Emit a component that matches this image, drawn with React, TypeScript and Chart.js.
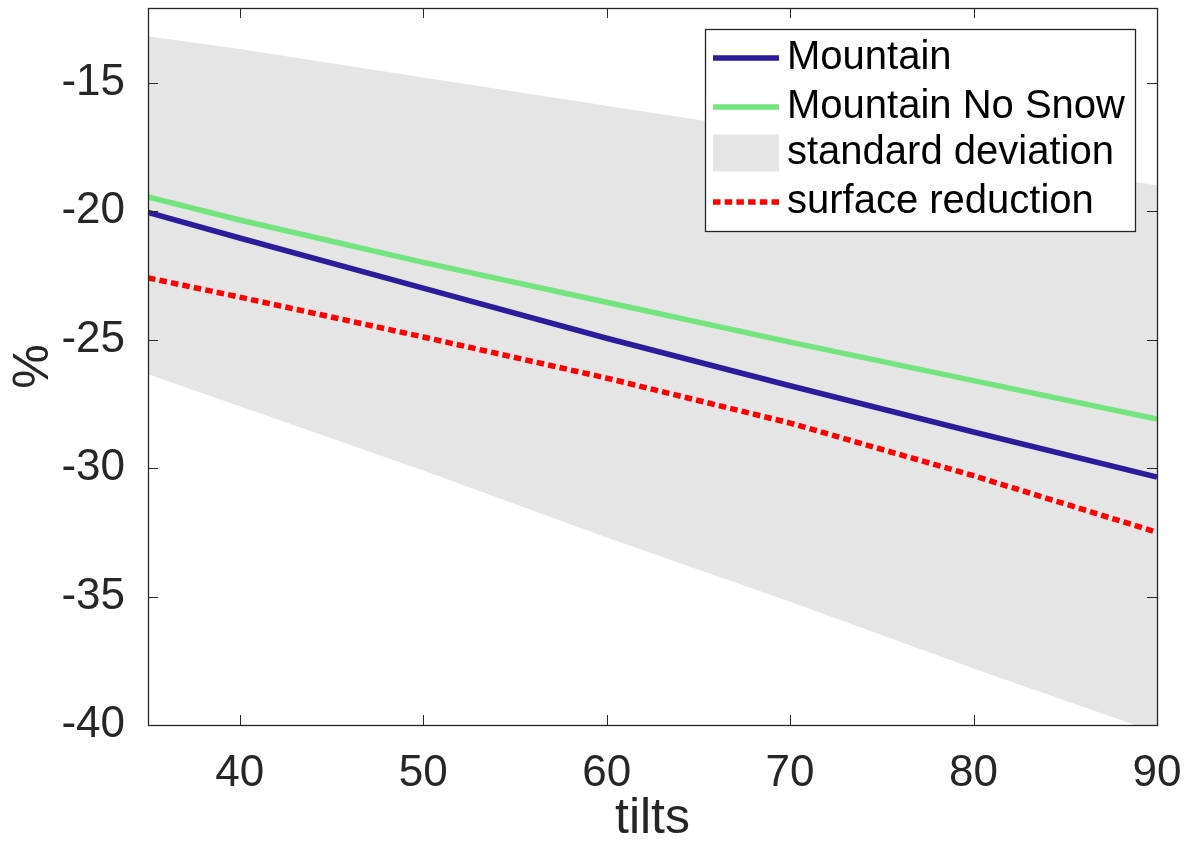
import React, { useEffect, useRef } from "react";
import { Chart, registerables } from "chart.js";

Chart.register(...registerables);

// ---- data ----
const tilts = [35, 40, 50, 60, 70, 80, 90];
const mountain = [-20.05, -21.05, -23.0, -24.95, -26.8, -28.6, -30.35];
const mountainNoSnow = [-19.45, -20.35, -22.0, -23.55, -25.1, -26.6, -28.1];
const surfaceReduction = [-22.6, -23.35, -24.9, -26.5, -28.25, -30.3, -32.5];
const stdUpper = [-13.2, -13.7, -14.8, -15.9, -17.0, -18.0, -19.0];
const stdLower = [-26.35, -27.6, -30.1, -32.7, -35.2, -37.8, -40.3];

const xTicks = [40, 50, 60, 70, 80, 90];
const yTicks = [-40, -35, -30, -25, -20, -15];
const xLabel = "tilts";
const yLabel = "%";
const legendLabels = ["Mountain", "Mountain No Snow", "standard deviation", "surface reduction"];

const FONT = "'Liberation Sans', Arial, Helvetica, sans-serif";
const BLUE = "#2b1c9b";
const GREEN = "#74e47f";
const RED = "#ff0000";
const BAND = "#e5e5e5";
const AXIS = "#262626";
const LW = 5.5;

const pts = (ys: number[]) => tilts.map((t, i) => ({ x: t, y: ys[i] }));

const boxAndTicks = {
  id: "boxAndTicks",
  afterDatasetsDraw(chart: any) {
    const { ctx, chartArea, scales } = chart;
    const { left, right, top, bottom } = chartArea;
    const tl = 10;
    ctx.save();
    ctx.strokeStyle = AXIS;
    ctx.lineWidth = 1;
    ctx.beginPath();
    for (const v of xTicks) {
      const px = Math.round(scales.x.getPixelForValue(v)) + 0.5;
      ctx.moveTo(px, bottom);
      ctx.lineTo(px, bottom - tl);
      ctx.moveTo(px, top);
      ctx.lineTo(px, top + tl);
    }
    for (const v of yTicks) {
      const py = Math.round(scales.y.getPixelForValue(v)) + 0.5;
      ctx.moveTo(left, py);
      ctx.lineTo(left + tl, py);
      ctx.moveTo(right, py);
      ctx.lineTo(right - tl, py);
    }
    ctx.stroke();
    ctx.lineWidth = 1.3;
    ctx.strokeRect(Math.round(left) + 0.5, Math.round(top) + 0.5, Math.round(right - left), Math.round(bottom - top));
    ctx.restore();
  },
};

const legendPlugin = {
  id: "customLegend",
  afterDraw(chart: any) {
    const { ctx, chartArea } = chart;
    const w = 430;
    const h = 202;
    const bx = chartArea.right - 22 - w;
    const by = chartArea.top + 21;
    ctx.save();
    ctx.fillStyle = "#ffffff";
    ctx.fillRect(bx, by, w, h);
    ctx.strokeStyle = AXIS;
    ctx.lineWidth = 1.3;
    ctx.strokeRect(bx + 0.5, by + 0.5, w, h);
    const rows = [29, 78, 124, 173];
    const sx0 = bx + 8;
    const sx1 = bx + 74;
    ctx.lineCap = "butt";
    ctx.lineWidth = LW;
    ctx.strokeStyle = BLUE;
    ctx.beginPath();
    ctx.moveTo(sx0, by + rows[0]);
    ctx.lineTo(sx1, by + rows[0]);
    ctx.stroke();
    ctx.strokeStyle = GREEN;
    ctx.beginPath();
    ctx.moveTo(sx0, by + rows[1]);
    ctx.lineTo(sx1, by + rows[1]);
    ctx.stroke();
    ctx.fillStyle = BAND;
    ctx.fillRect(sx0, by + rows[2] - 18.5, sx1 - sx0, 37);
    ctx.strokeStyle = RED;
    ctx.setLineDash([7.5, 4.2]);
    ctx.beginPath();
    ctx.moveTo(sx0, by + rows[3]);
    ctx.lineTo(sx1, by + rows[3]);
    ctx.stroke();
    ctx.setLineDash([]);
    ctx.fillStyle = "#000000";
    ctx.font = `40px ${FONT}`;
    ctx.textBaseline = "middle";
    ctx.textAlign = "left";
    legendLabels.forEach((l, i) => ctx.fillText(l, bx + 82, by + rows[i]));
    ctx.restore();
  },
};

export default function App() {
  const ref = useRef<HTMLCanvasElement | null>(null);
  useEffect(() => {
    if (!ref.current) return;
    const chart = new Chart(ref.current, {
      type: "line",
      data: {
        datasets: [
          {
            label: legendLabels[0],
            data: pts(mountain),
            borderColor: BLUE,
            borderWidth: LW,
            pointRadius: 0,
            fill: false,
            tension: 0,
            order: 2,
          },
          {
            label: legendLabels[1],
            data: pts(mountainNoSnow),
            borderColor: GREEN,
            borderWidth: LW,
            pointRadius: 0,
            fill: false,
            tension: 0,
            order: 3,
          },
          {
            label: legendLabels[3],
            data: pts(surfaceReduction),
            borderColor: RED,
            borderWidth: LW,
            borderDash: [7.5, 4.2],
            borderCapStyle: "butt",
            pointRadius: 0,
            fill: false,
            tension: 0,
            order: 1,
          },
          {
            label: legendLabels[2],
            data: pts(stdUpper),
            borderWidth: 0,
            borderColor: "rgba(0,0,0,0)",
            backgroundColor: BAND,
            pointRadius: 0,
            fill: "+1",
            tension: 0,
            order: 10,
          },
          {
            label: "std lower",
            data: pts(stdLower),
            borderWidth: 0,
            borderColor: "rgba(0,0,0,0)",
            pointRadius: 0,
            fill: false,
            tension: 0,
            order: 11,
          },
        ],
      },
      options: {
        responsive: false,
        animation: false,
        events: [],
        layout: { padding: { top: 8, right: 27, left: 0, bottom: 0 } },
        plugins: { legend: { display: false }, tooltip: { enabled: false } },
        scales: {
          x: {
            type: "linear",
            min: 35,
            max: 90,
            afterBuildTicks: (s: any) => {
              s.ticks = xTicks.map((v) => ({ value: v }));
            },
            afterFit: (s: any) => {
              s.height = 116;
              s.paddingLeft = 0;
              s.paddingRight = 0;
            },
            grid: { display: false },
            border: { display: false },
            ticks: { padding: 14, color: AXIS, font: { family: FONT, size: 44 } },
            title: {
              display: true,
              text: xLabel,
              color: AXIS,
              font: { family: FONT, size: 50, lineHeight: 0.8 },
              padding: { top: 0, bottom: 1.6 },
            },
          },
          y: {
            type: "linear",
            min: -40,
            max: -12.1,
            afterBuildTicks: (s: any) => {
              s.ticks = yTicks.map((v) => ({ value: v }));
            },
            afterFit: (s: any) => {
              s.width = 148;
              s.paddingTop = 0;
              s.paddingBottom = 0;
            },
            grid: { display: false },
            border: { display: false },
            ticks: { padding: 15, color: AXIS, font: { family: FONT, size: 44 } },
            title: {
              display: true,
              text: yLabel,
              color: AXIS,
              font: { family: FONT, size: 50, lineHeight: 0.8 },
              padding: { top: 14.7, bottom: 0 },
            },
          },
        },
      },
      plugins: [boxAndTicks, legendPlugin],
    } as any);
    return () => chart.destroy();
  }, []);
  return (
    <div style={{ position: "fixed", left: 0, top: 0, width: 1184, height: 841, background: "#fff" }}>
      <canvas ref={ref} width={1184} height={841} style={{ display: "block" }} />
    </div>
  );
}
